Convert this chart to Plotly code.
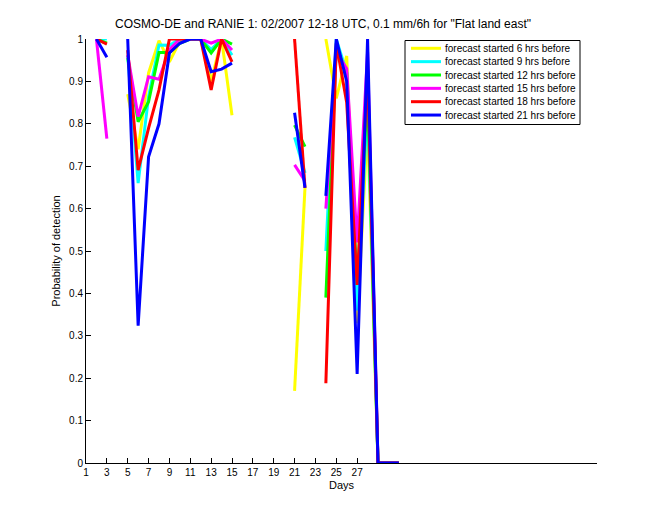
import plotly.graph_objects as go

days = list(range(1, 32))
N = None

yellow_6h = [N, 1.0, 0.99, N, 0.87, 0.74, 0.92, 0.996, 0.946, 0.995, 1.0, 1.0, 0.90, 1.0, 0.82,
             N, N, N, N, N, 0.17, 0.65, N, 1.0, 0.86, 0.96, 0.33, 0.80, 0.0, 0.0, 0.0]
cyan_9h = [N, 1.0, 1.0, N, 0.96, 0.66, 0.864, 0.986, 0.985, 1.0, 1.0, 1.0, 0.975, 1.0, 0.962,
           N, N, N, N, N, 0.768, 0.684, N, 0.50, 1.0, 0.92, 0.36, 0.85, 0.0, 0.0, 0.0]
green_12h = [N, 1.0, 0.99, N, 0.955, 0.805, 0.852, 0.968, 0.968, 0.99, 1.0, 1.0, 0.967, 1.0, 0.988,
             N, N, N, N, N, 0.797, 0.746, N, 0.39, 0.98, 0.92, 0.42, 0.88, 0.0, 0.0, 0.0]
magenta_15h = [N, 1.0, 0.765, N, 0.962, 0.817, 0.911, 0.905, 0.975, 1.0, 1.0, 1.0, 0.99, 1.0, 0.974,
               N, N, N, N, N, 0.703, 0.665, N, 0.60, 0.97, 0.93, 0.52, 0.97, 0.0, 0.0, 0.0]
red_18h = [N, 1.0, 0.988, N, 0.974, 0.691, 0.79, 0.88, 1.0, 1.0, 1.0, 1.0, 0.88, 1.0, 0.946,
           N, N, N, N, N, 1.0, 0.649, N, 0.188, 0.99, 0.85, 0.42, 0.93, 0.0, 0.0, 0.0]
blue_21h = [N, 1.0, 0.957, N, 1.0, 0.324, 0.722, 0.80, 0.967, 0.99, 1.0, 1.0, 0.923, 0.929, 0.943,
            N, N, N, N, N, 0.826, 0.649, N, 0.63, 1.0, 0.90, 0.21, 1.0, 0.0, 0.0, 0.0]

names = ["forecast started 6 hrs before", "forecast started 9 hrs before",
         "forecast started 12 hrs before", "forecast started 15 hrs before",
         "forecast started 18 hrs before", "forecast started 21 hrs before"]
values = [yellow_6h, cyan_9h, green_12h, magenta_15h, red_18h, blue_21h]
colors = ["#ffff00", "#00ffff", "#00ff00", "#ff00ff", "#ff0000", "#0000ff"]

x_tickvals = list(range(1, 28, 2))
y_tickvals = [0, 0.1, 0.2, 0.3, 0.4, 0.5, 0.6, 0.7, 0.8, 0.9, 1.0]
y_ticktext = ["0", "0.1", "0.2", "0.3", "0.4", "0.5", "0.6", "0.7", "0.8", "0.9", "1"]

FONT = "Liberation Sans, Arial, Helvetica, sans-serif"
W, H = 660, 520
ML, MR, MT, MB = 86, 63, 39, 57
PW, PH = W - ML - MR, H - MT - MB


def px(xp):
    return (xp - ML) / PW


def py(yp):
    return (H - MB - yp) / PH


fig = go.Figure()
for name, vals, col in zip(names, values, colors):
    fig.add_trace(go.Scatter(x=days, y=vals, mode="lines", name=name,
                             line=dict(color=col, width=3), connectgaps=False))

# legend box drawn in paper coordinates (MATLAB-style compact legend)
shapes = [dict(type="rect", xref="paper", yref="paper",
               x0=px(405), x1=px(580), y0=py(124.5), y1=py(40.5),
               line=dict(color="black", width=1), fillcolor="white", layer="above")]
annotations = []
for i, (name, col) in enumerate(zip(names, colors)):
    yc = 48.3 + i * 13.35
    shapes.append(dict(type="line", xref="paper", yref="paper",
                       x0=px(411), x1=px(441), y0=py(yc), y1=py(yc),
                       line=dict(color=col, width=3), layer="above"))
    annotations.append(dict(text=name, xref="paper", yref="paper", x=px(443), y=py(yc),
                            xanchor="left", yanchor="middle", showarrow=False,
                            font=dict(family=FONT, size=10, color="black")))

annotations.append(dict(text='COSMO-DE and RANIE 1: 02/2007 12-18 UTC, 0.1 mm/6h for "Flat land east"',
                        xref="paper", yref="paper", x=px(113), y=1.0,
                        xanchor="left", yanchor="bottom", yshift=6, showarrow=False,
                        font=dict(family=FONT, size=12)))

fig.update_layout(
    width=W, height=H,
    paper_bgcolor="white", plot_bgcolor="white",
    margin=dict(l=ML, r=MR, t=MT, b=MB),
    font=dict(family=FONT, size=10, color="black"),
    showlegend=False,
    xaxis=dict(range=[1, 50], tickvals=x_tickvals, ticks="inside", ticklen=5,
               showgrid=False, zeroline=False, showline=True, linecolor="black",
               linewidth=1, tickcolor="black", tickfont=dict(size=10),
               title=dict(text="Days", font=dict(size=11), standoff=4)),
    yaxis=dict(range=[0, 1], tickvals=y_tickvals, ticktext=y_ticktext, ticks="inside",
               ticklen=5, showgrid=False, zeroline=False, showline=True,
               linecolor="black", linewidth=1, tickcolor="black", tickfont=dict(size=10),
               title=dict(text="Probability of detection", font=dict(size=11), standoff=6)),
    shapes=shapes,
    annotations=annotations,
)

fig.write_html("out.html")
